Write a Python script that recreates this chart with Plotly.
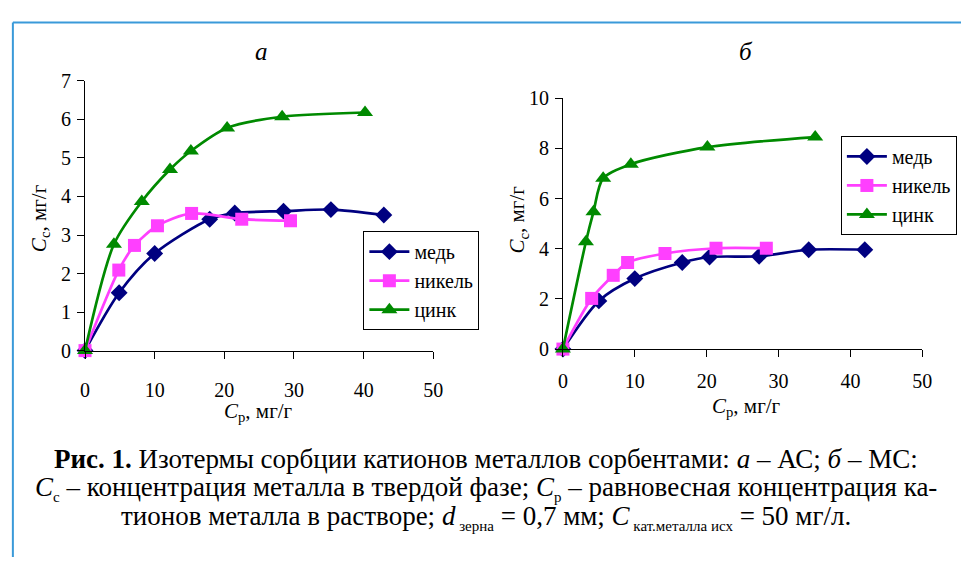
import plotly.graph_objects as go

# ---- data: panel a (АС) ----
a_cu_x = [0, 4.9, 10.0, 17.9, 21.5, 28.5, 35.3, 42.9]
a_cu_y = [0, 1.5, 2.52, 3.41, 3.57, 3.62, 3.66, 3.52]
a_ni_x = [0, 4.85, 7.1, 10.4, 15.3, 22.5, 29.5]
a_ni_y = [0, 2.09, 2.73, 3.24, 3.56, 3.41, 3.37]
a_zn_x = [0, 4.15, 8.15, 12.2, 15.2, 20.4, 28.3, 40.2]
a_zn_y = [0, 2.76, 3.87, 4.70, 5.18, 5.78, 6.07, 6.18]

# ---- data: panel б (МС) ----
b_cu_x = [0, 5.0, 10.0, 16.6, 20.4, 27.3, 34.2, 42.0]
b_cu_y = [0, 1.92, 2.81, 3.45, 3.67, 3.70, 3.96, 3.96]
b_ni_x = [0, 4.0, 7.0, 9.0, 14.2, 21.3, 28.3]
b_ni_y = [0, 2.02, 2.94, 3.45, 3.81, 4.02, 4.02]
b_zn_x = [0, 3.2, 4.25, 5.6, 9.45, 20.1, 35.1]
b_zn_y = [0, 4.28, 5.47, 6.81, 7.37, 8.05, 8.45]

names = ["медь", "никель", "цинк"]
colors = ["#000080", "#FF3FFF", "#008A00"]
symbols = ["diamond", "square", "triangle-up"]
msizes = [13, 13, 14]

x_ticks = [0, 10, 20, 30, 40, 50]
ya_ticks = [0, 1, 2, 3, 4, 5, 6, 7]
yb_ticks = [0, 2, 4, 6, 8, 10]

FONT = "'Liberation Serif', 'Times New Roman', serif"

fig = go.Figure()

series_a = [(a_cu_x, a_cu_y), (a_ni_x, a_ni_y), (a_zn_x, a_zn_y)]
series_b = [(b_cu_x, b_cu_y), (b_ni_x, b_ni_y), (b_zn_x, b_zn_y)]

for i, (xs, ys) in enumerate(series_a):
    fig.add_trace(go.Scatter(
        x=xs, y=ys, mode="lines+markers", name=names[i],
        line=dict(color=colors[i], width=2.7, shape="spline", smoothing=0.8),
        marker=dict(symbol=symbols[i], size=msizes[i], color=colors[i]),
        cliponaxis=False, xaxis="x", yaxis="y", legend="legend"))
for i, (xs, ys) in enumerate(series_b):
    fig.add_trace(go.Scatter(
        x=xs, y=ys, mode="lines+markers", name=names[i],
        line=dict(color=colors[i], width=2.7, shape="spline", smoothing=0.8),
        marker=dict(symbol=symbols[i], size=msizes[i], color=colors[i]),
        cliponaxis=False, xaxis="x2", yaxis="y2", legend="legend2"))

axis_common = dict(
    showgrid=False, zeroline=False, showline=True, linecolor="black", linewidth=1,
    ticks="outside", ticklen=7, tickcolor="black",
    tickfont=dict(family=FONT, size=20, color="black"))

fig.update_layout(
    width=971, height=568,
    margin=dict(l=0, r=0, t=0, b=0),
    paper_bgcolor="white", plot_bgcolor="white",
    font=dict(family=FONT, color="black"),
    xaxis=dict(domain=[0.0837, 0.448], range=[0, 50], tickvals=x_ticks,
               anchor="y", ticklabelstandoff=14, **axis_common),
    yaxis=dict(domain=[0.378, 0.872], range=[0, 7], tickvals=ya_ticks,
               anchor="x", ticklabelstandoff=2, **axis_common),
    xaxis2=dict(domain=[0.5836, 0.9595], range=[0, 50], tickvals=x_ticks,
                anchor="y2", ticklabelstandoff=7, **axis_common),
    yaxis2=dict(domain=[0.3808, 0.8403], range=[0, 10], tickvals=yb_ticks,
                anchor="x2", ticklabelstandoff=2, **axis_common),
    legend=dict(x=364/971, y=1 - 229/568, xanchor="left", yanchor="top",
                bgcolor="white", bordercolor="black", borderwidth=1,
                font=dict(family=FONT, size=20, color="black"),
                itemwidth=40, tracegroupgap=0),
    legend2=dict(x=849/971, y=1 - 130/568, xanchor="left", yanchor="top",
                 bgcolor="white", bordercolor="black", borderwidth=1,
                 font=dict(family=FONT, size=20, color="black"),
                 itemwidth=40, tracegroupgap=0),
    showlegend=True,
)


def sub(t):
    return '<sub><span style="font-size:15px">' + t + '</span></sub>'


ann = []
# panel labels
ann.append(dict(x=261/971, y=1 - 42/568, text="<i>а</i>", font=dict(family=FONT, size=25)))
ann.append(dict(x=753/971, y=1 - 42/568, text="<i>б</i>", font=dict(family=FONT, size=25)))
# axis titles
ann.append(dict(x=257/971, y=1 - 417/568, text="<i>C</i><sub>р</sub>, мг/г", font=dict(family=FONT, size=21)))
ann.append(dict(x=753/971, y=1 - 412/568, text="<i>C</i><sub>р</sub>, мг/г", font=dict(family=FONT, size=21)))
ann.append(dict(x=35/971, y=1 - 215/568, text="<i>C</i><sub>с</sub>, мг/г", textangle=-90, font=dict(family=FONT, size=21)))
ann.append(dict(x=521/971, y=1 - 217/568, text="<i>C</i><sub>с</sub>, мг/г", textangle=-90, font=dict(family=FONT, size=21)))
# caption
cap_font = dict(family=FONT, size=27, color="black")
ann.append(dict(x=489/971, y=1 - 466/568, font=cap_font,
                text="<b>Рис. 1.</b> Изотермы сорбции катионов металлов сорбентами: <i>а</i> – АС; <i>б</i> – МС:"))
ann.append(dict(x=489/971, y=1 - 497/568, font=cap_font,
                text="<i>C</i>" + sub("с") + " – концентрация металла в твердой фазе; <i>C</i>" + sub("р")
                     + " – равновесная концентрация ка-"))
ann.append(dict(x=489/971, y=1 - 527/568, font=cap_font,
                text="тионов металла в растворе; <i>d</i>" + sub(" зерна") + " = 0,7 мм; <i>C</i>"
                     + sub(" кат.металла исх") + " = 50 мг/л."))
for a in ann:
    a.update(xref="paper", yref="paper", showarrow=False, xanchor="center", yanchor="middle")
fig.update_layout(annotations=ann)

# frame lines (top and left)
fig.add_shape(type="line", xref="paper", yref="paper", x0=8/971, x1=1, y0=1 - 12/568, y1=1 - 12/568,
              line=dict(color="#3A9AD9", width=2))
fig.add_shape(type="line", xref="paper", yref="paper", x0=8/971, x1=8/971, y0=0, y1=1 - 12/568,
              line=dict(color="#3A9AD9", width=2))

fig.write_html("out.html")
